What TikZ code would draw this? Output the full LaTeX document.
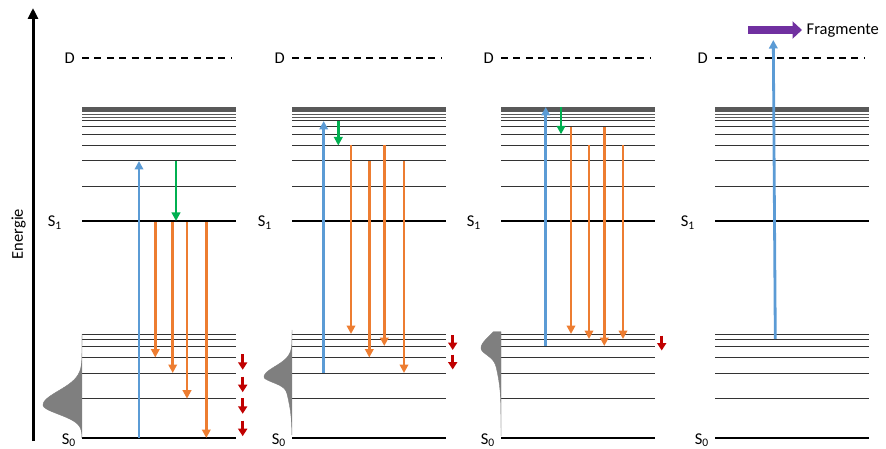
\documentclass[tikz,border=0pt]{standalone}
\usepackage{fontspec}
\setmainfont{Carlito}
\usetikzlibrary{arrows.meta}

\definecolor{absblue}{RGB}{91,155,213}
\definecolor{emitorange}{RGB}{237,125,49}
\definecolor{vibgreen}{RGB}{0,176,80}
\definecolor{coolred}{RGB}{192,0,0}
\definecolor{fragpurple}{RGB}{112,48,160}
\definecolor{popgray}{RGB}{127,127,127}

\tikzset{
  vlevel/.style={line width=1pt, black!80},
  bundle/.style={line width=0.8pt, black!65},
  mainlevel/.style={line width=2pt, black},
  dlevel/.style={line width=1.8pt, dash pattern=on 7pt off 5.4pt},
  lbl/.style={font=\fontsize{16.5}{19}\selectfont, inner sep=0pt},
  arrtip/.style={-{Triangle[length=8.5pt,width=8.5pt]}},
  absorb/.style={arrtip, line width=2.8pt, absblue},
  vibrel/.style={arrtip, line width=2.8pt, vibgreen},
  emit/.style={arrtip, line width=2.6pt, emitorange},
  coolstep/.style={-{Triangle[length=7.5pt,width=9pt]}, line width=3.2pt, coolred},
  popfill/.style={fill=popgray, draw=popgray, line width=0.4pt}
}

\begin{document}
\begin{tikzpicture}[x=1pt,y=-1pt]
\useasboundingbox (0,0) rectangle (886,449);

% energy axis
\coordinate (ebot) at (33,441);
\coordinate (etop) at (33,8);
\draw[line width=3pt, -{Triangle[length=11pt,width=10pt]}] (ebot) -- (etop);
\node[lbl, rotate=90] (energie) at (18.5,234) {Energie};

% levels of the four panels
\foreach \p/\x in {1/82, 2/292, 3/501, 4/715}{
  \foreach \y in {107,108.2,109.4,110.6,111.8,114,117}
    \draw[bundle] (\x,\y) -- ++(154,0);
  \foreach \y in {121,127,134.3,145.5,161,186.7,334,339,346,357.5,373,398.7}
    \draw[vlevel] (\x,\y) -- ++(154,0);
  \draw[mainlevel] (\x,221) -- ++(154,0);
  \draw[mainlevel] (\x,438) -- ++(154,0);
  \draw[dlevel] (\x,58.3) -- ++(150,0);
  \node[lbl, anchor=base east] (d\p) at ({\x-7},63.5) {D};
  \node[lbl, anchor=base east] (sone\p) at ({\x-20},226.7) {S\textsubscript{1}};
  \node[lbl, anchor=base east] (szero\p) at ({\x-6},444) {S\textsubscript{0}};
}

% population of S0
\fill[popfill] (82,334) -- plot[domain=334:405,samples=40] ({82-39*exp(-((\x-405)/20)*((\x-405)/20))},\x)
  -- plot[domain=405:438,samples=30] ({82-39*exp(-((\x-405)/13)*((\x-405)/13))},\x) -- cycle;
\fill[popfill] (292,330) -- plot[domain=330:377,samples=40] ({292-28*exp(-((\x-377)/15)*((\x-377)/15))},\x)
  -- plot[domain=377:435,samples=50] ({292-21*exp(-((\x-377)/7.5)*((\x-377)/7.5))-7*exp(-((\x-377)/28)*((\x-377)/28))},\x) -- cycle;
\fill[popfill] (501,331.7) -- plot[domain=331.7:348.3,samples=20] ({501-20*exp(-((\x-348.3)/17)*((\x-348.3)/17))},\x)
  -- plot[domain=348.3:436,samples=60] ({501-13*exp(-((\x-348.3)/9)*((\x-348.3)/9))-7*exp(-((\x-348.3)/30)*((\x-348.3)/30))},\x) -- cycle;

% panel 1
\draw[absorb] (139,438) -- (139,161);
\draw[vibrel] (176,161) -- (176,221);
\draw[emit] (155.3,222) -- (155.3,357.5);
\draw[emit] (172.7,222) -- (172.7,373);
\draw[emit] (187,222) -- (187,398.7);
\draw[emit] (206.3,222) -- (206.3,438);
\foreach \y in {354.3,376.7,398.3,420.7}
  \draw[coolstep] (242.7,\y) -- ++(0,15.5);

% panel 2
\draw[absorb] (323.7,373) -- (323.7,121);
\draw[vibrel] (338.3,121) -- (338.3,145.5);
\draw[emit] (351,145.5) -- (351,334);
\draw[emit] (369.3,161) -- (369.3,357.5);
\draw[emit] (384.3,145.5) -- (384.3,346);
\draw[emit] (404,161) -- (404,373);
\foreach \y in {335,354.5}
  \draw[coolstep] (452.7,\y) -- ++(0,15);

% panel 3
\draw[absorb] (545.7,346) -- (545.7,107);
\draw[vibrel] (561,107) -- (561,134.3);
\draw[emit] (571,127) -- (571,334);
\draw[emit] (589,145.5) -- (589,339);
\draw[emit] (604.3,127) -- (604.3,346);
\draw[emit] (623,145.5) -- (623,339);
\draw[coolstep] (661.7,335.5) -- ++(0,15);

% panel 4
\draw[absorb] (775.3,339) -- (773.3,40);
\coordinate (fstart) at (748,30);
\coordinate (fend) at (802,30);
\draw[line width=8.5pt, fragpurple, -{Triangle[length=9.5pt,width=17pt]}] (fstart) -- (fend);
\node[lbl, anchor=base west] (frag) at (806.5,34.5) {Fragmente};
\end{tikzpicture}
\end{document}
